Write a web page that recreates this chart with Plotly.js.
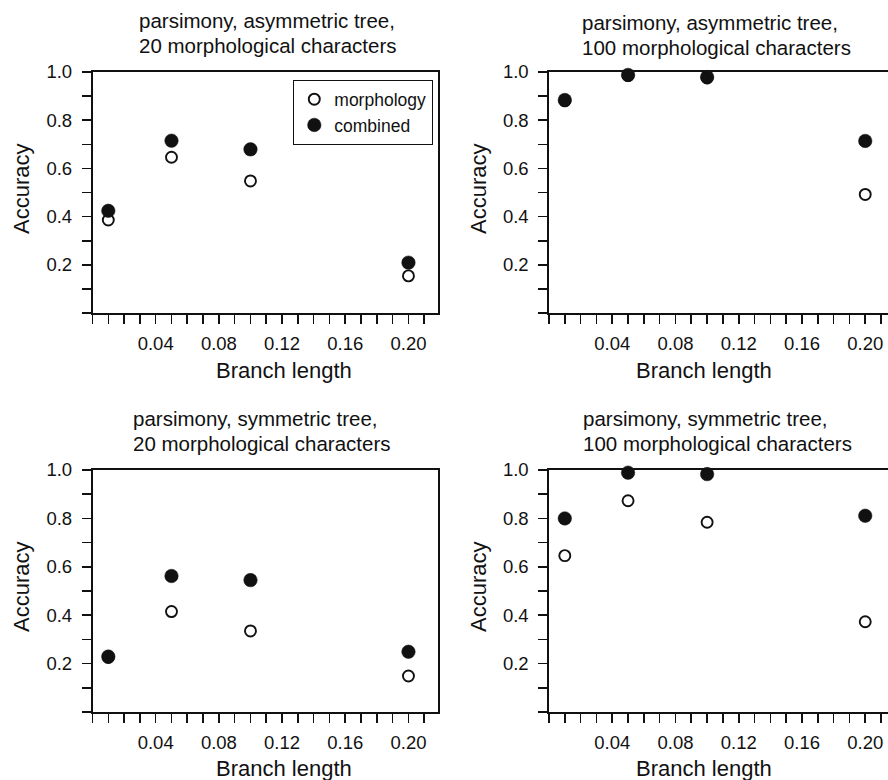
<!DOCTYPE html>
<html>
<head>
<meta charset="utf-8">
<script src="https://cdn.plot.ly/plotly-3.0.1.min.js"></script>
<style>html,body{margin:0;padding:0;background:#fff;}#chart{width:888px;height:780px;}</style>
</head>
<body>
<div id="chart"></div>
<script>
// ---- data ----
const branchLength = [0.01, 0.05, 0.10, 0.20];
const asym20Morph  = [0.386, 0.646, 0.548, 0.154];
const asym20Comb   = [0.424, 0.715, 0.679, 0.209];
const asym100Morph = [0.880, 0.985, 0.975, 0.492];
const asym100Comb  = [0.884, 0.988, 0.979, 0.714];
const sym20Morph   = [0.225, 0.415, 0.335, 0.149];
const sym20Comb    = [0.229, 0.562, 0.545, 0.249];
const sym100Morph  = [0.646, 0.873, 0.784, 0.373];
const sym100Comb   = [0.800, 0.989, 0.983, 0.811];

const seriesNames = ['morphology', 'combined'];
const panelTitlesLine1 = ['parsimony, asymmetric tree,', 'parsimony, asymmetric tree,', 'parsimony, symmetric tree,', 'parsimony, symmetric tree,'];
const panelTitlesLine2 = ['20 morphological characters', '100 morphological characters', '20 morphological characters', '100 morphological characters'];
const xTitle = 'Branch length';
const yTitle = 'Accuracy';

const xTickVals = [0, 0.01, 0.02, 0.03, 0.04, 0.05, 0.06, 0.07, 0.08, 0.09, 0.10, 0.11, 0.12, 0.13, 0.14, 0.15, 0.16, 0.17, 0.18, 0.19, 0.20, 0.21, 0.22];
const xTickText = ['', '', '', '', '0.04', '', '', '', '0.08', '', '', '', '0.12', '', '', '', '0.16', '', '', '', '0.20', '', ''];
const yTickVals = [0, 0.1, 0.2, 0.3, 0.4, 0.5, 0.6, 0.7, 0.8, 0.9, 1.0];
const yTickText = ['', '', '0.2', '', '0.4', '', '0.6', '', '0.8', '', '1.0'];

// ---- layout geometry ----
const W = 888, H = 780;
const INK = '#111111';
const FONT = 'Liberation Sans, Arial, Helvetica, sans-serif';
const px = v => v / W;
const py = v => (H - v) / H;

const panels = [
  {morph: asym20Morph,  comb: asym20Comb,  x0: 92.5, x1: 438, top: 72,  bot: 313, xr: 0.2187, mirrorY: true,
   tx: 136.5, t1: 20, t2: 45, axX: 284, axY: 370, ayX: 21, ayY: 189},
  {morph: asym100Morph, comb: asym100Comb, x0: 549,  x1: 888, top: 72,  bot: 313, xr: 0.2144, mirrorY: false,
   tx: 579.5, t1: 22, t2: 47, axX: 704, axY: 370, ayX: 478, ayY: 189},
  {morph: sym20Morph,   comb: sym20Comb,   x0: 92.5, x1: 438, top: 470, bot: 712, xr: 0.2187, mirrorY: true,
   tx: 130.5, t1: 418, t2: 443, axX: 284, axY: 768, ayX: 21, ayY: 587},
  {morph: sym100Morph,  comb: sym100Comb,  x0: 549,  x1: 888, top: 470, bot: 712, xr: 0.2144, mirrorY: false,
   tx: 580.5, t1: 418, t2: 443, axX: 704, axY: 768, ayX: 478, ayY: 587}
];

const traces = [];
const layout = {
  width: W, height: H, autosize: false,
  margin: {l: 0, r: 0, t: 0, b: 0},
  paper_bgcolor: '#fff', plot_bgcolor: '#fff',
  font: {family: FONT, color: INK, size: 18},
  showlegend: true,
  legend: {
    x: px(433), y: py(80), xanchor: 'right', yanchor: 'top',
    bgcolor: '#fff', bordercolor: INK, borderwidth: 1.3,
    font: {family: FONT, size: 17.5, color: INK},
    tracegroupgap: 0, itemclick: false
  },
  annotations: []
};

panels.forEach((p, i) => {
  const n = i + 1;
  const xa = 'x' + (n === 1 ? '' : n), ya = 'y' + (n === 1 ? '' : n);
  traces.push({
    type: 'scatter', mode: 'markers', name: seriesNames[0],
    x: branchLength, y: p.morph, xaxis: xa, yaxis: ya, cliponaxis: false,
    showlegend: n === 1,
    marker: {symbol: 'circle', size: 11, color: '#fff', line: {color: INK, width: 1.9}}
  });
  traces.push({
    type: 'scatter', mode: 'markers', name: seriesNames[1],
    x: branchLength, y: p.comb, xaxis: xa, yaxis: ya, cliponaxis: false,
    showlegend: n === 1,
    marker: {symbol: 'circle', size: 13.5, color: INK, line: {color: INK, width: 0.5}}
  });
  const xKey = 'xaxis' + (n === 1 ? '' : n), yKey = 'yaxis' + (n === 1 ? '' : n);
  layout[xKey] = {
    domain: [px(p.x0), px(p.x1)], range: [0, p.xr], anchor: ya,
    showgrid: false, zeroline: false, showline: true, linecolor: INK, linewidth: 1.7,
    mirror: true, ticks: 'outside', ticklen: 9, tickwidth: 1.6, tickcolor: INK,
    tickmode: 'array', tickvals: xTickVals, ticktext: xTickText,
    tickfont: {family: FONT, size: 18.5, color: INK}, ticklabelstandoff: 4,
    fixedrange: true
  };
  layout[yKey] = {
    domain: [py(p.bot), py(p.top)], range: [0, 1.0], anchor: xa,
    showgrid: false, zeroline: false, showline: true, linecolor: INK, linewidth: 1.7,
    mirror: p.mirrorY, ticks: 'outside', ticklen: 9, tickwidth: 1.6, tickcolor: INK,
    tickmode: 'array', tickvals: yTickVals, ticktext: yTickText,
    tickfont: {family: FONT, size: 18.5, color: INK}, ticklabelstandoff: 6,
    fixedrange: true
  };
  layout.annotations.push(
    {xref: 'paper', yref: 'paper', x: px(p.tx), y: py(p.t1), xanchor: 'left', yanchor: 'middle',
     text: panelTitlesLine1[i], showarrow: false, font: {family: FONT, size: 20.5, color: INK}},
    {xref: 'paper', yref: 'paper', x: px(p.tx), y: py(p.t2), xanchor: 'left', yanchor: 'middle',
     text: panelTitlesLine2[i], showarrow: false, font: {family: FONT, size: 20.5, color: INK}},
    {xref: 'paper', yref: 'paper', x: px(p.axX), y: py(p.axY), xanchor: 'center', yanchor: 'middle',
     text: xTitle, showarrow: false, font: {family: FONT, size: 22, color: INK}},
    {xref: 'paper', yref: 'paper', x: px(p.ayX), y: py(p.ayY), xanchor: 'center', yanchor: 'middle',
     text: yTitle, textangle: -90, showarrow: false, font: {family: FONT, size: 22, color: INK}}
  );
});

Plotly.newPlot('chart', traces, layout, {displayModeBar: false, staticPlot: true});
</script>
</body>
</html>
